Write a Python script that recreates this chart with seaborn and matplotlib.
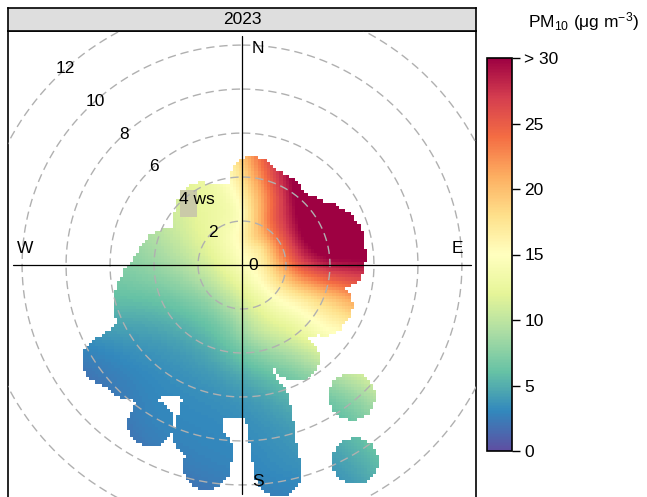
import numpy as np
import matplotlib
matplotlib.use("Agg")
import matplotlib.pyplot as plt
from matplotlib.patches import Rectangle
import seaborn as sns

sns.set_theme(style="white")
plt.rcParams["font.family"] = ["Liberation Sans", "DejaVu Sans"]
plt.rcParams["mathtext.fontset"] = "custom"
plt.rcParams["mathtext.rm"] = "Liberation Sans"
plt.rcParams["mathtext.it"] = "Liberation Sans:italic"
plt.rcParams["text.color"] = "black"
plt.rcParams["ytick.color"] = "black"
plt.rcParams["ytick.labelcolor"] = "black"

# ---------------- data ----------------
panel_title = "2023"
legend_title = r"PM$_{10}$ ($\mathregular{\mu}$g m$^{-3}$)"
ring_ticks = [2, 4, 6, 8, 10, 12]
cbar_ticks = [0, 5, 10, 15, 20, 25, 30]
cbar_labels = ["0", "5", "10", "15", "20", "25", "> 30"]
compass_labels = ["N", "E", "S", "W"]
ws_upper = 10.64          # wind-speed extent of the panel

# wind direction / wind speed coverage of the measured data (deg, m/s)
cov_wd = [0, 7, 10, 15, 20, 25, 30, 35, 40, 45, 50, 55, 60, 65, 70, 75, 80, 85,
          90, 95, 100, 105, 110, 115, 120, 125, 130, 135, 140, 140, 145, 150,
          150, 150, 155, 160, 165, 170, 170, 175, 180, 185, 190, 190, 195, 200,
          205, 210, 210, 215, 220, 225, 230, 235, 240, 245, 250, 255, 260, 265,
          270, 275, 280, 285, 290, 295, 300, 305, 310, 315, 320, 325, 330, 335,
          340, 345, 350, 355]
cov_ws_lo = [0.2] * 29 + [7.8] + [0.2] * 2 + [4.9, 10.3] + [0.2] * 4 + [6.3] + \
            [0.2] * 4 + [8.6] + [0.2] * 4 + [8.3] + [0.2] * 28
cov_ws_hi = [2.7, 3.9, 3.7, 3.6, 3.5, 3.5, 3.5, 3.3, 3.2, 3.1, 3.4, 3.6, 3.8, 4.2,
             4.5, 4.6, 4.6, 4.6, 4.5, 3.5, 3.0, 3.2, 3.3, 4.4, 4.3, 3.8, 3.3, 3.0,
             3.3, 7.8, 3.2, 3.2, 4.9, 10.3, 3.0, 3.0, 3.1, 3.2, 9.6, 5.6, 5.9, 5.9,
             6.0, 9.3, 8.0, 5.8, 5.5, 5.5, 8.3, 6.0, 6.9, 7.2, 7.3, 7.6, 5.4, 5.2,
             5.1, 4.85, 4.5, 3.9, 3.9, 3.7, 3.5, 2.9, 2.1, 2.1, 2.2, 2.3, 2.4, 2.9,
             3.0, 3.3, 3.0, 2.75, 2.75, 2.7, 2.7, 2.7]

# PM10 (ug/m3) read at locations of the polar surface
pm_wd = [0, 49, 27, 2, 353, 10, 33, 32, 27, 90, 90, 90, 90, 72, 65, 121, 112,
         109, 130, 164, 192, 150, 140, 150, 180, 170, 170, 190, 210, 235, 242,
         255, 270, 270, 325, 358, 328, 230]
pm_ws = [0.0, 1.06, 3.35, 4.77, 4.35, 4.6, 4.05, 2.4, 1.28, 1.73, 2.64, 4.0, 5.1,
         3.73, 4.9, 3.08, 4.3, 4.94, 4.6, 3.06, 2.56, 4.9, 7.8, 10.3, 5.2, 7.2,
         9.6, 9.3, 8.3, 7.6, 5.3, 6.1, 4.2, 1.9, 3.1, 2.27, 1.9, 2.5]
pm_val = [14.5, 16.5, 25, 20, 16, 23.5, 29.5, 24, 19, 21, 25.5, 28.5, 29, 32,
          33, 16.5, 19, 20.5, 14.5, 10.5, 8.0, 8.8, 8.0, 4.8, 4.6, 3.8, 3.2, 2.7,
          2.8, 2.8, 4.8, 5.8, 8.0, 10.5, 12.5, 14.5, 13.5, 7.5]

# ---------------- surface ----------------
def to_uv(wd, ws):
    a = np.deg2rad(np.asarray(wd, float))
    ws = np.asarray(ws, float)
    return ws * np.sin(a), ws * np.cos(a)

# binned observation positions (bins of ~0.35 m/s along each direction)
obs_u, obs_v = [], []
for wd, lo, hi in zip(cov_wd, cov_ws_lo, cov_ws_hi):
    n = max(1, int(round((hi - lo) / 0.35)) + 1)
    ws = np.linspace(lo, hi, n)
    u, v = to_uv(np.full(n, wd), ws)
    obs_u.append(u); obs_v.append(v)
obs_u = np.concatenate(obs_u); obs_v = np.concatenate(obs_v)

# thin plate spline through the PM10 readings
cu, cv = to_uv(pm_wd, pm_ws)
cval = np.asarray(pm_val, float)
def tps_k(r):
    with np.errstate(divide="ignore", invalid="ignore"):
        k = r ** 2 * np.log(r)
    return np.nan_to_num(k)
m = len(cu)
R = np.hypot(cu[:, None] - cu[None, :], cv[:, None] - cv[None, :])
A = np.zeros((m + 3, m + 3))
A[:m, :m] = tps_k(R) + 0.3 * np.eye(m)
P = np.column_stack([np.ones(m), cu, cv])
A[:m, m:] = P
A[m:, :m] = P.T
b = np.concatenate([cval, np.zeros(3)])
coef = np.linalg.solve(A, b)

N = 150
L = ws_upper
cent = -L + (np.arange(N) + 0.5) * 2 * L / N
GU, GV = np.meshgrid(cent, cent[::-1])
Rg = np.hypot(GU[..., None] - cu, GV[..., None] - cv)
Z = tps_k(Rg) @ coef[:m] + coef[m] + coef[m + 1] * GU + coef[m + 2] * GV

# exclude grid cells too far from any observation
d2 = (GU[..., None] - obs_u) ** 2 + (GV[..., None] - obs_v) ** 2
too_far = np.sqrt(d2.min(axis=-1)) > 0.05 * 2 * L

# ---------------- figure ----------------
W, H = 647, 497
fig = plt.figure(figsize=(W / 100, H / 100), dpi=100)
ax = fig.add_axes([8 / W, (H - 31 - 468) / H, 468 / W, 468 / H])
cax = fig.add_axes([487 / W, (H - 451) / H, 25 / W, 393 / H])

cmap = sns.color_palette("Spectral_r", as_cmap=True)
sns.heatmap(Z, mask=too_far, cmap=cmap, vmin=0, vmax=30, ax=ax, cbar_ax=cax,
            xticklabels=False, yticklabels=False, linewidths=0,
            cbar_kws={"ticks": cbar_ticks})
ax.set_xlim(0, N)
ax.set_ylim(N, 0)
for s in ax.spines.values():
    s.set_visible(True)
    s.set_color("black")
    s.set_linewidth(1.2)

def px(u):
    return (np.asarray(u) + L) / (2 * L) * N
def py(v):
    return (L - np.asarray(v)) / (2 * L) * N

# label background patch behind "4 ws"
ax.add_patch(Rectangle((px(-2.82), py(3.4)), px(-2.05) - px(-2.82),
                       py(2.18) - py(3.4), facecolor="#cacaa8", edgecolor="none",
                       zorder=2))

th = np.linspace(0, 2 * np.pi, 400)
for r in ring_ticks:
    ax.plot(px(r * np.sin(th)), py(r * np.cos(th)), color="#b0b0b0", lw=1.0,
            ls=(0, (6, 3.5)), zorder=3)

ax.plot(px([-10.4, 10.4]), py([0, 0]), color="black", lw=0.9, zorder=4)
ax.plot(px([0, 0]), py([10.4, -10.4]), color="black", lw=0.9, zorder=4)

fs = 12.5
comp_pos = [(0.73, 9.86), (9.8, 0.77), (0.73, -9.86), (-9.86, 0.77)]
for lab, (u, v) in zip(compass_labels, comp_pos):
    ax.text(px(u), py(v), lab, ha="center", va="center", fontsize=fs, zorder=5)

ang = np.deg2rad(318)
for r in ring_ticks:
    u, v = r * np.sin(ang), r * np.cos(ang)
    if r == 4:
        ax.text(px(u - 0.2), py(v), "4 ws", ha="left", va="center", fontsize=fs, zorder=5)
    else:
        ax.text(px(u), py(v), str(r), ha="center", va="center", fontsize=fs, zorder=5)
ax.text(px(0.5), py(0), "0", ha="center", va="center", fontsize=fs, zorder=5)

# strip
sax = fig.add_axes([8 / W, (H - 31) / H, 468 / W, 23 / H])
sax.set_facecolor("#dedede")
sax.set_xticks([]); sax.set_yticks([])
for s in sax.spines.values():
    s.set_visible(True); s.set_color("black"); s.set_linewidth(1.2)
sax.text(0.5, 0.5, panel_title, ha="center", va="center", fontsize=fs,
         transform=sax.transAxes)

# colorbar
cbar = ax.collections[0].colorbar
cbar.set_ticks(cbar_ticks)
cbar.set_ticklabels(cbar_labels)
cbar.ax.tick_params(right=True, length=6, width=1, color="black",
                    labelcolor="black", labelsize=fs, pad=3, direction="out")
cbar.outline.set_visible(True)
cbar.outline.set_edgecolor("black")
cbar.outline.set_linewidth(1.2)
fig.text(528 / W, 1 - 22 / H, legend_title, ha="left", va="center", fontsize=fs)

fig.savefig("out.png", dpi=100)
